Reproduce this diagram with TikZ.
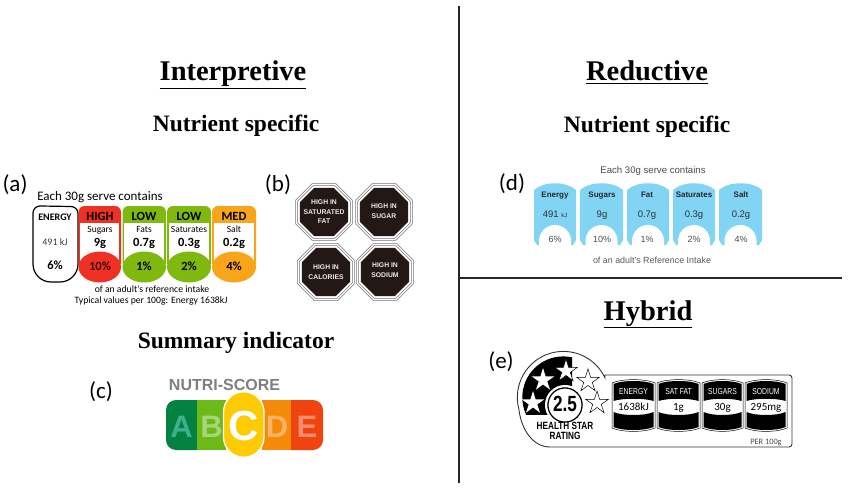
\documentclass[tikz,border=0pt]{standalone}
\usepackage{fontspec}
\setmainfont{Liberation Serif}
\newfontfamily\calfnt{Carlito}
\newfontfamily\arifnt{Liberation Sans}
\newfontfamily\narfnt[FakeStretch=0.78]{Liberation Sans}
\usetikzlibrary{shapes.geometric}
\definecolor{tlred}{HTML}{EE3124}
\definecolor{tlgreen}{HTML}{7FB80E}
\definecolor{tlamber}{HTML}{F9A51A}
\definecolor{octk}{HTML}{231815}
\definecolor{skyb}{HTML}{82D4F5}
\definecolor{nsA}{HTML}{038141}
\definecolor{nsB}{HTML}{6CB917}
\definecolor{nsC}{HTML}{FECB02}
\definecolor{nsD}{HTML}{F58A08}
\definecolor{nsE}{HTML}{F0440E}
\definecolor{nsg}{HTML}{7F7F7F}
\definecolor{ltA}{HTML}{3FB08F}
\definecolor{ltB}{HTML}{A5D67C}
\definecolor{ltD}{HTML}{F8B26A}
\definecolor{ltE}{HTML}{F98E6F}
\tikzset{
  x=1pt,y=-1pt,
  heading/.style={font=\fontsize{28.5}{32}\selectfont\bfseries,inner sep=0pt,anchor=base},
  subhead/.style={font=\fontsize{23.5}{26}\selectfont\bfseries,inner sep=0pt,anchor=base},
  tag/.style={font=\calfnt\fontsize{23}{25}\selectfont,inner sep=0pt,anchor=base},
  calt/.style={font=\calfnt\fontsize{#1}{#1}\selectfont,inner sep=0pt,anchor=base},
  ritext/.style={font=\arifnt\fontsize{#1}{#1}\selectfont,inner sep=0pt,anchor=base},
  bcal/.style={font=\calfnt\bfseries\fontsize{#1}{#1}\selectfont,inner sep=0pt,anchor=base},
  divider/.style={draw=black!85,line width=1.3pt},
  octa/.style={regular polygon,regular polygon sides=8,inner sep=0pt,align=center},
  nsl/.style={font=\arifnt\bfseries\fontsize{#1}{#1}\selectfont,inner sep=0pt,anchor=base},
  octxt/.style={font=\arifnt\bfseries\fontsize{6.8}{9.4}\selectfont,text=white!92!black,inner sep=0pt,align=center},
  estar/.style={star,star points=5,star point ratio=2.7,inner sep=0pt,minimum size=#1},
  pnl/.style={font=\narfnt\fontsize{8.7}{8.7}\selectfont,inner sep=0pt,anchor=base},
}
% traffic light column: #1 x-left #2 x-right #3 colour
\newcommand{\tlcol}[3]{%
  \fill[#3] (#1,223) -- (#1,212) arc[start angle=180,end angle=90,radius=6pt] -- ({#2-6},206) arc[start angle=90,end angle=0,radius=6pt] -- (#2,223) -- (#2,264) -- (#1,264) -- cycle;
  \fill[white] ({#1+1.6},223) rectangle ({#2-1.6},264);
  \fill[#3] ({(#1+#2)/2},267) ellipse[x radius={(#2-#1)/2},y radius=15.5];
}
% octagon sign
\newcommand{\octsign}[3]{%
  \node[octa,draw=black!55,line width=.5pt,fill=white,minimum size=61.5pt] at (#1,#2) {};
  \node[octa,draw=black!55,line width=.5pt,fill=white,minimum size=57pt] at (#1,#2) {};
  \node[octa,fill=octk,minimum size=52pt] (#3) at (#1,#2) {};
}
% blue panel
\newcommand{\bluep}[2]{%
  \fill[skyb] (#1,190) .. controls ({#1+10},181) and ({#2-10},181) .. (#2,190) -- (#2,240) -- ({#2-3},245) -- ({#1+3},245) -- (#1,240) -- cycle;
  \fill[white] ({(#1+#2)/2-16},246) -- ({(#1+#2)/2-16},241) arc[start angle=180,end angle=0,radius=16pt] -- ({(#1+#2)/2+16},246) -- cycle;
}
% health star panel
\newcommand{\hsp}[2]{%
  \draw[black,line width=.5pt,fill=white] (#1,383) .. controls ({#1+10},378.5) and ({#2-10},378.5) .. (#2,383) -- (#2,428) .. controls ({#2-10},432.5) and ({#1+10},432.5) .. (#1,428) -- cycle;
  \fill[black] ({#1+1.5},384) .. controls ({#1+10},380) and ({#2-10},380) .. ({#2-1.5},384) -- ({#2-1.5},401) .. controls ({#2-10},398) and ({#1+10},398) .. ({#1+1.5},401) -- cycle;
  \fill[black] ({#1+1.5},412) .. controls ({#1+10},416) and ({#2-10},416) .. ({#2-1.5},412) -- ({#2-1.5},427) .. controls ({#2-10},431) and ({#1+10},431) .. ({#1+1.5},427) -- cycle;
}
\begin{document}
\begin{tikzpicture}
\useasboundingbox (0,0) rectangle (850,489);
\fill[white] (0,0) rectangle (850,489);
% dividers
\coordinate (vt) at (459,6); \coordinate (vb) at (459,483);
\coordinate (hl) at (459,278); \coordinate (hr) at (842,278);
\draw[divider] (vt) -- (vb);
\draw[divider] (hl) -- (hr);
% headings
\node[heading] (h1) at (233,81) {\underline{Interpretive}};
\node[heading] (h2) at (647,81) {\underline{Reductive}};
\node[heading] (h3) at (648,320) {\underline{Hybrid}};
\node[subhead] (s1) at (236,132) {Nutrient specific};
\node[subhead] (s2) at (647,133) {Nutrient specific};
\node[subhead] (s3) at (236,348) {Summary indicator};
% tags
\node[tag] (ta) at (15,191.5) {(a)};
\node[tag] (tb) at (278,191.5) {(b)};
\node[tag] (tc) at (101,398.5) {(c)};
\node[tag] (td) at (512,190.5) {(d)};
\node[tag] (te) at (501,368.5) {(e)};
% (a)
\node[calt=13] (a0) at (100,200) {Each 30g serve contains};
\draw[black,line width=1.2pt,fill=white] (33,213) arc[start angle=180,end angle=90,radius=7pt] -- (71,206.5) arc[start angle=90,end angle=0,radius=7pt] -- (78,264) arc[start angle=0,end angle=-90,radius=18pt] -- (51,282) arc[start angle=-90,end angle=-180,radius=18pt] -- cycle;
\tlcol{78.5}{121}{tlred}
\tlcol{122.5}{166}{tlgreen}
\tlcol{167}{211}{tlgreen}
\tlcol{212}{256}{tlamber}
\node[bcal=10] (a1) at (55,220) {ENERGY};
\node[calt=10,text=black!75] (a2) at (55,245) {491 kJ};
\node[bcal=12.5] (a3) at (55,269) {6\%};
\node[bcal=12.5] (b1) at (100,220) {HIGH};
\node[calt=9.5] (b2) at (100,232) {Sugars};
\node[bcal=12.5] (b3) at (100,246) {9g};
\node[bcal=12.5,text=black!75!tlred] (b4) at (100,270) {10\%};
\node[bcal=12.5] (c1) at (144,220) {LOW};
\node[calt=9.5] (c2) at (144,232) {Fats};
\node[bcal=12.5] (c3) at (144,246) {0.7g};
\node[bcal=12.5] (c4) at (144,270) {1\%};
\node[bcal=12.5] (d1) at (189,220) {LOW};
\node[calt=9.5] (d2) at (189,232) {Saturates};
\node[bcal=12.5] (d3) at (189,246) {0.3g};
\node[bcal=12.5] (d4) at (189,270) {2\%};
\node[bcal=12.5] (e1) at (234,220) {MED};
\node[calt=9.5] (e2) at (234,232) {Salt};
\node[bcal=12.5] (e3) at (234,246) {0.2g};
\node[bcal=12.5] (e4) at (234,270) {4\%};
\node[calt=9.7] (a5) at (152,292) {of an adult's reference intake};
\node[calt=9.7] (a6) at (151,303) {Typical values per 100g: Energy 1638kJ};
% (b)
\octsign{324}{212}{o1}
\octsign{384}{212}{o2}
\octsign{326}{272}{o3}
\octsign{385}{272}{o4}
\node[octxt] (o1t) at (o1) {HIGH IN\\SATURATED\\FAT};
\node[octxt] (o2t) at (384,211) {HIGH IN\\SUGAR};
\node[octxt] (o3t) at (o3) {HIGH IN\\CALORIES};
\node[octxt] (o4t) at (385,270) {HIGH IN\\SODIUM};
% (c)
\node[nsl=16,text=nsg] (n0) at (224.5,390) {NUTRI-SCORE};
\fill[nsA] (197,400) -- (176,400) arc[start angle=90,end angle=180,radius=10pt] -- (166,440) arc[start angle=180,end angle=270,radius=10pt] -- (197,450) -- cycle;
\fill[nsB] (197,400) rectangle (226,450);
\fill[nsD] (262,400) rectangle (291,450);
\fill[nsE] (291,400) -- (313,400) arc[start angle=90,end angle=0,radius=10pt] -- (323,440) arc[start angle=0,end angle=-90,radius=10pt] -- (291,450) -- cycle;
\draw[white,line width=1.3pt,fill=nsC] (223.5,412) arc[start angle=180,end angle=0,radius=20.25pt] -- (264,437) arc[start angle=0,end angle=-180,radius=20.25pt] -- cycle;
\node[nsl=31,text=ltA] (nA) at (181.5,437) {A};
\node[nsl=31,text=ltB] (nB) at (211.5,437) {B};
\node[nsl=42,text=white] (nC) at (243.5,440.5) {C};
\node[nsl=31,text=ltD] (nD) at (277,437) {D};
\node[nsl=31,text=ltE] (nE) at (307,437) {E};
% (d)
\node[ritext=9.6,text=black!70] (d0) at (653,174) {Each 30g serve contains};
\bluep{534}{576}
\bluep{580}{623}
\bluep{627}{669}
\bluep{673}{715}
\bluep{719}{762}
\foreach \nm/\cx/\hd/\vv/\pc in {p1/555/Energy/{491 \fontsize{6}{6}\selectfont kJ}/6\%,p2/602/Sugars/9g/10\%,p3/647/Fat/0.7g/1\%,p4/694/Saturates/0.3g/2\%,p5/741/Salt/0.2g/4\%}{
  \node[font=\arifnt\bfseries\fontsize{8}{8}\selectfont,inner sep=0pt,anchor=base,text=black!85] (\nm h) at (\cx,197) {\hd};
  \node[ritext=9.5,text=black!80] (\nm v) at (\cx,217.5) {\vv};
  \node[ritext=9,text=black!70] (\nm p) at (\cx,242) {\pc};
}
\node[ritext=8.9,text=black!65] (d9) at (652,263) {of an adult's Reference Intake};
% (e)
\draw[black!80,line width=.9pt,fill=white] (605,375) -- (789,375) arc[start angle=90,end angle=0,radius=3pt] -- (792,444) arc[start angle=0,end angle=-90,radius=3pt] -- (550,447) .. controls (532,447) and (521,428) .. (518.9,409.3) arc[start angle=195,end angle=25,radius=46pt] -- (605,375) -- cycle;
\begin{scope}
\clip (515,350) rectangle (572,414);
\fill[black] (563.3,397.4) circle[radius=41];
\end{scope}
\draw[white,line width=1pt,fill=white] (565,405) circle[radius=19.5];
\draw[black,line width=1.1pt,fill=white] (565,405) circle[radius=17];
\node[estar=24pt,fill=white] (st1) at (543,380) {};
\node[estar=24pt,fill=white] (st2) at (533,403) {};
\node[estar=24pt,fill=white,draw=black,line width=.5pt] (st3) at (566,371) {};
\node[estar=24pt,fill=white,draw=black,line width=.5pt] (st4) at (588,381) {};
\node[estar=24pt,fill=white,draw=black,line width=.5pt] (st5) at (597,403) {};
\draw[black,line width=1.1pt,fill=white] (565,405) circle[radius=17];
\node[font=\narfnt\bfseries\fontsize{22}{22}\selectfont,inner sep=0pt,anchor=base] (h25) at (565,411) {2.5};
\node[font=\narfnt\bfseries\fontsize{10.5}{10.5}\selectfont,inner sep=0pt,anchor=base] (hs1) at (565,429) {HEALTH STAR};
\node[font=\narfnt\bfseries\fontsize{10.5}{10.5}\selectfont,inner sep=0pt,anchor=base] (hs2) at (565,439.5) {RATING};
\hsp{612}{655}
\hsp{657}{700}
\hsp{702}{743}
\hsp{745}{787}
\node[pnl,text=white] (q1) at (633.5,394) {ENERGY};
\node[pnl,text=white] (q2) at (678.5,394) {SAT FAT};
\node[pnl,text=white] (q3) at (722.5,394) {SUGARS};
\node[pnl,text=white] (q4) at (766,394) {SODIUM};
\node[font=\calfnt\fontsize{11}{11}\selectfont,inner sep=0pt,anchor=base] (r1) at (633.5,410.5) {1638kJ};
\node[font=\calfnt\fontsize{11}{11}\selectfont,inner sep=0pt,anchor=base] (r2) at (678.5,410.5) {1g};
\node[font=\calfnt\fontsize{11}{11}\selectfont,inner sep=0pt,anchor=base] (r3) at (722.5,410.5) {30g};
\node[font=\calfnt\fontsize{11}{11}\selectfont,inner sep=0pt,anchor=base] (r4) at (766,410.5) {295mg};
\node[font=\calfnt\fontsize{8.3}{8.3}\selectfont,inner sep=0pt,anchor=base,text=black!70] (per) at (766,444) {PER 100g};
\end{tikzpicture}
\end{document}
